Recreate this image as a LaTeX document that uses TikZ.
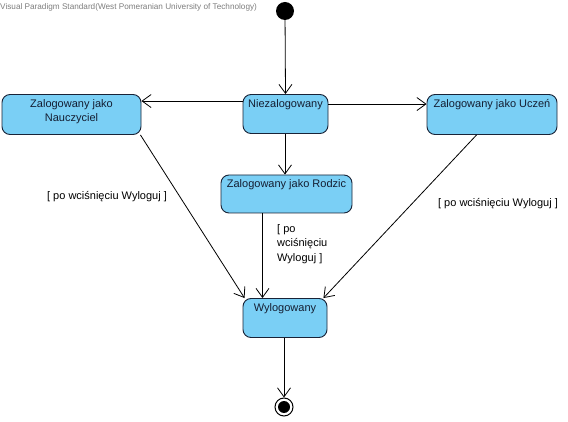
\documentclass[tikz,border=0pt]{standalone}
\usepackage{fontspec}
\setmainfont{Liberation Sans}
\usetikzlibrary{positioning,arrows.meta,calc}
\definecolor{vpfill}{RGB}{122,207,245}
\definecolor{vpborder}{RGB}{25,35,55}
\definecolor{vptext}{RGB}{20,30,50}
\definecolor{vpgrey}{RGB}{125,125,125}
\tikzset{
  stan/.style={draw=vpborder,fill=vpfill,line width=0.9pt,rounded corners=8pt,
    text=vptext,font=\fontsize{11}{14}\selectfont,align=center,
    inner ysep=3pt,text height=10pt},
  przejscie/.style={-{Straight Barb[length=9pt,width=13pt,line width=0.8pt]},line width=0.8pt},
  warunek/.style={font=\fontsize{11}{14.5}\selectfont,text=black}
}
\begin{document}
\begin{tikzpicture}[x=1pt,y=-1pt]
  \useasboundingbox (0,0) rectangle (568,422);
  \node[anchor=west,text=vpgrey,font=\fontsize{8.2}{9}\selectfont,inner sep=0pt] (znak) at (0,7)
    {Visual Paradigm Standard(West Pomeranian University of Technology)};
  \node[circle,fill=black,minimum size=18pt,inner sep=0pt] (start) at (285,11) {};
  \node[stan,minimum width=85pt,text depth=23pt] (niezal) at (285.5,114) {Niezalogowany};
  \node[stan,minimum width=139pt,text height=24pt,text depth=10pt] (nauczyciel) at (71.5,114.5) {Zalogowany jako\\Nauczyciel};
  \node[stan,minimum width=130pt,text depth=24pt] (uczen) at (492,114.5) {Zalogowany jako Uczeń};
  \node[stan,minimum width=131pt,text depth=22pt] (rodzic) at (286.5,194) {Zalogowany jako Rodzic};
  \node[stan,minimum width=84pt,text depth=23pt] (wylog) at (285,318) {Wylogowany};
  \node[circle,draw=black,line width=1pt,fill=white,minimum size=18pt,inner sep=0pt] (koniec) at (284,407) {};
  \fill (koniec) circle (6pt);

  \draw[przejscie] (start) -- (niezal.north);
  \draw[przejscie] ([yshift=-7pt]niezal.north west) -- ([yshift=-7pt]niezal.north west -| nauczyciel.east);
  \draw[przejscie] ([yshift=-10pt]niezal.north east) -- ([yshift=-10pt]niezal.north east -| uczen.west);
  \draw[przejscie] (niezal.south -| start) -- (rodzic.north -| start);
  \draw[przejscie] ([xshift=-1pt]nauczyciel.south east) -- ([xshift=2pt]wylog.north west);
  \draw[przejscie] ([xshift=-24pt]rodzic.south) -- ([xshift=-24pt]rodzic.south |- wylog.north);
  \draw[przejscie] ([xshift=50pt]uczen.south west) -- ([xshift=-4pt]wylog.north east);
  \draw[przejscie] (wylog.south -| koniec) -- (koniec.north);

  \node[warunek] (war1) at (107,197) {[ po wciśnięciu Wyloguj ]};
  \node[warunek] (war3) at (498,204) {[ po wciśnięciu Wyloguj ]};
  \node[warunek,anchor=north west,align=left,inner sep=0pt] (war2) at (277,224) {[ po\\wciśnięciu\\Wyloguj ]};
\end{tikzpicture}
\end{document}
